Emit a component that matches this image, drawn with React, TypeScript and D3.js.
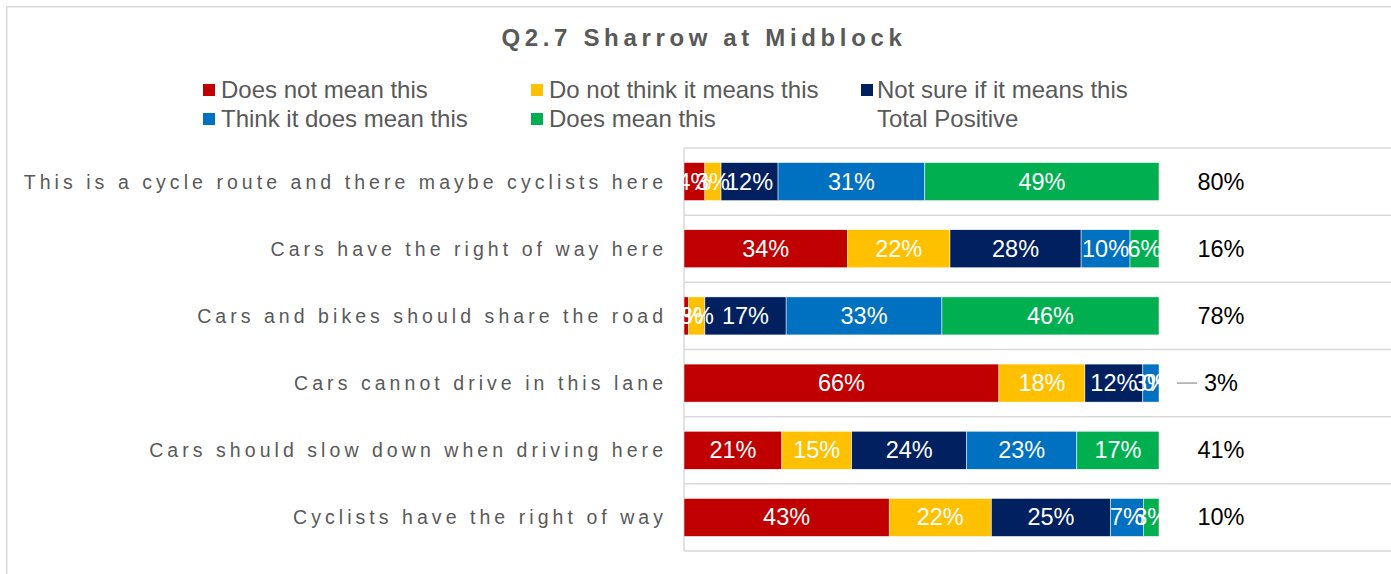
import React from "react";
import * as d3 from "d3";

const categories = [
  "This is a cycle route and there maybe cyclists here",
  "Cars have the right of way here",
  "Cars and bikes should share the road",
  "Cars cannot drive in this lane",
  "Cars should slow down when driving here",
  "Cyclists have the right of way",
];
const seriesNames = [
  "Does not mean this",
  "Do not think it means this",
  "Not sure if it means this",
  "Think it does mean this",
  "Does mean this",
];
const doesNotMean = [4.4, 34.4, 1.0, 66.3, 20.6, 43.2];
const doNotThink = [3.4, 21.6, 3.4, 18.1, 14.7, 21.5];
const notSure = [12.0, 27.6, 17.1, 12.2, 24.2, 25.1];
const thinkDoes = [30.9, 10.3, 32.8, 3.4, 23.2, 6.9];
const doesMean = [49.3, 6.1, 45.7, 0, 17.3, 3.3];
const totalPositive = [80, 16, 78, 3, 41, 10];
const colors = ["#C00000", "#FFC000", "#002060", "#0070C0", "#00B050"];

const W = 1391;
const H = 574;
const FONT = "'Liberation Sans', Arial, sans-serif";

export default function App() {
  const series = [doesNotMean, doNotThink, notSure, thinkDoes, doesMean];
  const x = d3.scaleLinear().domain([0, 100]).range([684, 1159]);
  const y = d3
    .scaleBand<string>()
    .domain(categories)
    .range([148, 551])
    .paddingInner(0.434)
    .paddingOuter(0.217);
  const step = y.step();
  const plotRight = 1400;

  const rows = categories.map((c, i) => {
    const vals = series.map((s) => s[i]);
    const cum = d3.cumsum(vals);
    return vals.map((v, j) => ({ v, x0: cum[j] - v, x1: cum[j], j }));
  });

  const legendItems = [
    { name: seriesNames[0], color: colors[0], sx: 203, tx: 221, row: 0 },
    { name: seriesNames[1], color: colors[1], sx: 531, tx: 549, row: 0 },
    { name: seriesNames[2], color: colors[2], sx: 861, tx: 877, row: 0 },
    { name: seriesNames[3], color: colors[3], sx: 203, tx: 221, row: 1 },
    { name: seriesNames[4], color: colors[4], sx: 531, tx: 549, row: 1 },
    { name: "Total Positive", color: null, sx: 861, tx: 877, row: 1 },
  ];
  const legendY = [90, 119];
  const catLS = 4.05;

  return (
    <svg
      width={W}
      height={H}
      style={{ position: "absolute", left: 0, top: 0, background: "#fff" }}
      fontFamily={FONT}
    >
      <rect x={0} y={0} width={W} height={H} fill="#fff" />
      <rect
        x={6.75}
        y={6.75}
        width={W + 20}
        height={H + 20}
        fill="none"
        stroke="#d9d9d9"
        strokeWidth={1.5}
      />
      <text
        x={704}
        y={37}
        textAnchor="middle"
        dominantBaseline="central"
        fontSize={24}
        fontWeight="bold"
        letterSpacing={4.65}
        fill="#595959"
      >
        Q2.7 Sharrow at Midblock
      </text>

      {legendItems.map((l) => (
        <g key={l.name}>
          {l.color && (
            <rect x={l.sx} y={legendY[l.row] - 6} width={12} height={12} fill={l.color} />
          )}
          <text
            x={l.tx}
            y={legendY[l.row] - 0.5}
            dominantBaseline="central"
            fontSize={24}
            fill="#595959"
          >
            {l.name}
          </text>
        </g>
      ))}

      {d3.range(categories.length + 1).map((i) => (
        <line
          key={"g" + i}
          x1={684}
          x2={plotRight}
          y1={148 + i * step}
          y2={148 + i * step}
          stroke="#d9d9d9"
          strokeWidth={1.5}
        />
      ))}
      <line x1={684} x2={684} y1={148} y2={551} stroke="#d9d9d9" strokeWidth={1.5} />

      {categories.map((c, i) => {
        const yy = (y(c) as number) + y.bandwidth() / 2;
        return (
          <g key={c}>
            <text
              x={663 + catLS}
              y={yy}
              textAnchor="end"
              dominantBaseline="central"
              fontSize={19.5}
              letterSpacing={catLS}
              fill="#595959"
            >
              {c}
            </text>
            {rows[i].map((s) => (
              <rect
                key={s.j}
                x={x(s.x0)}
                y={y(c)}
                width={x(s.x1) - x(s.x0)}
                height={y.bandwidth()}
                fill={colors[s.j]}
                stroke="#fff"
                strokeWidth={0.5}
              />
            ))}
            {rows[i].map((s) => (
              <text
                key={"t" + s.j}
                x={(x(s.x0) + x(s.x1)) / 2}
                y={yy}
                textAnchor="middle"
                dominantBaseline="central"
                fontSize={23.5}
                fill="#fff"
              >
                {Math.round(s.v) + "%"}
              </text>
            ))}
            <text
              x={1221}
              y={yy}
              textAnchor="middle"
              dominantBaseline="central"
              fontSize={23.5}
              fill="#000"
            >
              {totalPositive[i] + "%"}
            </text>
            {i === 3 && (
              <line x1={1177} x2={1197} y1={yy} y2={yy} stroke="#a6a6a6" strokeWidth={1.5} />
            )}
          </g>
        );
      })}
    </svg>
  );
}
